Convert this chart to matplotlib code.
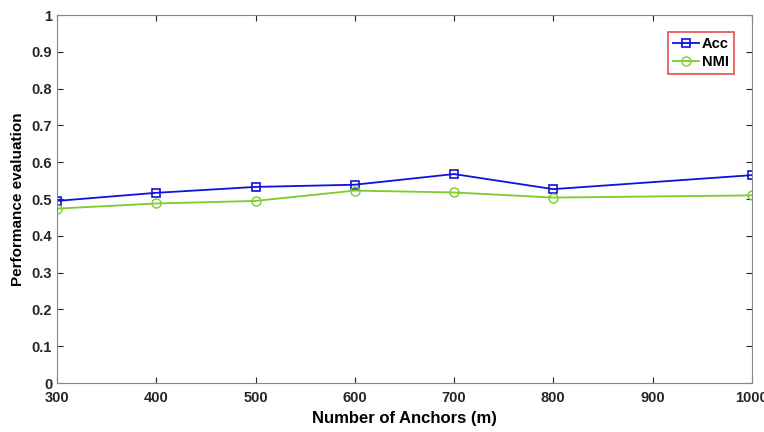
import matplotlib
matplotlib.use("Agg")
import matplotlib.pyplot as plt
import numpy as np

# values
anchors = [300, 400, 500, 600, 700, 800, 1000]
acc = [0.495, 0.517, 0.533, 0.539, 0.568, 0.527, 0.565]
nmi = [0.474, 0.488, 0.495, 0.523, 0.518, 0.504, 0.510]
xticks = [300, 400, 500, 600, 700, 800, 900, 1000]
yticks = np.round(np.arange(0, 1.01, 0.1), 1)

plt.rcParams['font.family'] = ['Liberation Sans', 'DejaVu Sans']
plt.rcParams['font.weight'] = 'bold'

fig = plt.figure(figsize=(7.64, 4.32), dpi=100)
ax = fig.add_axes([0.0746, 0.1134, 0.9094, 0.8516])
ax.plot(anchors, acc, color='#1010e0', marker='s', markersize=5.5,
        markerfacecolor='none', markeredgewidth=1.2, linewidth=1.3, label='Acc')
ax.plot(anchors, nmi, color='#7ccc2c', marker='o', markersize=6.5,
        markerfacecolor='none', markeredgewidth=1.0, linewidth=1.3, label='NMI')

ax.set_xlim(300, 1000)
ax.set_ylim(0, 1)
ax.set_xticks(xticks)
ax.set_yticks(yticks)
ax.set_yticklabels(['0' if v == 0 else ('1' if v == 1 else f'{v:g}') for v in yticks])
ax.tick_params(direction='in', labelsize=10.5, length=4, top=True, right=True, colors='#262626')
ax.tick_params(axis='x', pad=6)
for sp in ax.spines.values():
    sp.set_color('#888888')
    sp.set_linewidth(0.8)
ax.set_xlabel('Number of Anchors (m)', fontsize=12, fontweight='bold', labelpad=4)
ax.set_ylabel('Performance evaluation', fontsize=11, fontweight='bold', labelpad=5)

leg = ax.legend(loc='upper right', bbox_to_anchor=(0.985, 0.975), fontsize=10.5,
                fancybox=False, handlelength=1.8, borderpad=0.35, labelspacing=0.3,
                handletextpad=0.2)
leg.get_frame().set_edgecolor('#e02020')
leg.get_frame().set_linewidth(1.2)

fig.savefig('out.png', dpi=100)
